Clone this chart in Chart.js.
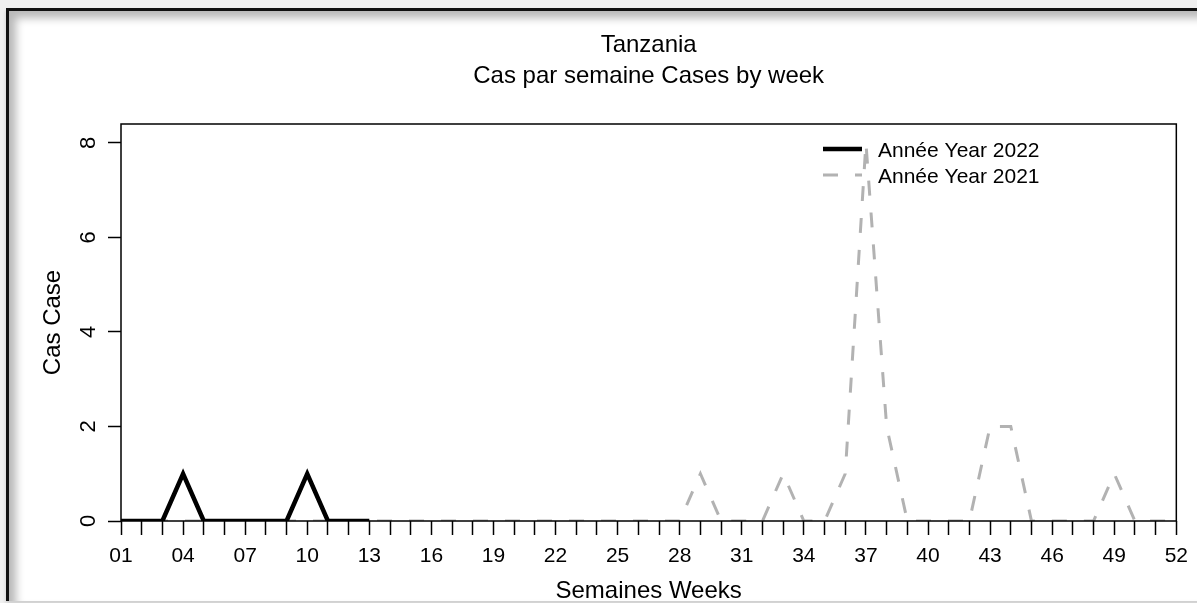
<!DOCTYPE html>
<html>
<head>
<meta charset="utf-8">
<script src="https://cdn.jsdelivr.net/npm/chart.js@4/dist/chart.umd.min.js"></script>
<style>
  html, body { margin: 0; padding: 0; width: 1197px; height: 603px; overflow: hidden; background: #f0f0f0; }
  #frame {
    position: absolute; left: 6px; top: 8px; width: 1200px; height: 590px;
    border-left: 3px solid #111; border-top: 3px solid #111;
    background: #fff;
    box-shadow: inset 7px 7px 9px rgba(0,0,0,0.28), 0 3px 4px rgba(0,0,0,0.15);
  }
  #c { position: absolute; left: 0; top: 0; }
</style>
</head>
<body>
<div id="frame"></div>
<canvas id="c" width="1197" height="603"></canvas>
<script>
const weeks = ['01','02','03','04','05','06','07','08','09','10','11','12','13','14','15','16','17','18','19','20','21','22','23','24','25','26','27','28','29','30','31','32','33','34','35','36','37','38','39','40','41','42','43','44','45','46','47','48','49','50','51','52'];
const cases2022 = [0,0,0,1,0,0,0,0,0,1,0,0,0];
const cases2021 = [0,0,0,0,0,0,0,0,0,0,0,0,0,0,0,0,0,0,0,0,0,0,0,0,0,0,0,0,1,0,0,0,1,0,0,1,8,2,0,0,0,0,2,2,0,0,0,0,1,0,0,0];
const yTicks = [0,2,4,6,8];
const titleLines = ['Tanzania', 'Cas par semaine Cases by week'];
const seriesLabels = ['Année Year 2022', 'Année Year 2021'];
const xTitle = 'Semaines Weeks';
const yTitle = 'Cas Case';

const FONT = "'Liberation Sans', Arial, sans-serif";

const titlePlugin = {
  id: 'rtitle',
  afterDraw(chart) {
    const {ctx, chartArea: a} = chart;
    const cx = (a.left + a.right) / 2;
    const rows = [45, 76];
    ctx.save();
    ctx.fillStyle = '#000';
    ctx.font = "24px " + FONT;
    ctx.textAlign = 'center';
    ctx.textBaseline = 'middle';
    titleLines.forEach((t, i) => ctx.fillText(t, cx, rows[i]));
    ctx.restore();
  }
};

const boxPlugin = {
  id: 'box',
  afterDraw(chart) {
    const {ctx, chartArea: a} = chart;
    ctx.save();
    ctx.strokeStyle = '#000';
    ctx.lineWidth = 1.5;
    ctx.strokeRect(a.left, a.top, a.right - a.left, a.bottom - a.top);
    ctx.restore();
  }
};

const legendPlugin = {
  id: 'rlegend',
  afterDatasetsDraw(chart) {
    const {ctx} = chart;
    const rows = [149, 175];
    chart.data.datasets.forEach((ds, i) => {
      const y = rows[i];
      ctx.save();
      ctx.strokeStyle = ds.borderColor;
      ctx.lineWidth = ds.borderWidth;
      ctx.setLineDash(ds.borderDash || []);
      ctx.lineCap = 'butt';
      ctx.beginPath();
      ctx.moveTo(823, y);
      ctx.lineTo(862, y);
      ctx.stroke();
      ctx.setLineDash([]);
      ctx.fillStyle = '#000';
      ctx.font = "21px " + FONT;
      ctx.textBaseline = 'middle';
      ctx.textAlign = 'left';
      ctx.fillText(ds.label, 878, y + 2);
      ctx.restore();
    });
  }
};

new Chart(document.getElementById('c'), {
  type: 'line',
  data: {
    labels: weeks,
    datasets: [
      {
        label: seriesLabels[0],
        data: cases2022,
        borderColor: '#000',
        borderWidth: 4.5,
        borderJoinStyle: 'miter',
        pointRadius: 0,
        tension: 0,
        fill: false
      },
      {
        label: seriesLabels[1],
        data: cases2021,
        borderColor: '#b2b2b2',
        borderWidth: 3,
        borderDash: [15, 17],
        borderJoinStyle: 'miter',
        pointRadius: 0,
        tension: 0,
        fill: false
      }
    ]
  },
  options: {
    responsive: false,
    animation: false,
    devicePixelRatio: 1,
    layout: { padding: { left: 0, right: 20, top: 124, bottom: 0 } },
    plugins: {
      legend: { display: false },
      tooltip: { enabled: false },
      title: { display: false }
    },
    scales: {
      x: {
        type: 'category',
        offset: false,
        grid: { display: true, drawOnChartArea: false, drawTicks: true, tickLength: 14, color: '#000', tickWidth: 1.5, offset: false },
        border: { display: false },
        ticks: {
          autoSkip: false, maxRotation: 0, minRotation: 0, padding: 9,
          color: '#000', font: { family: FONT, size: 21 },
          callback: (v, i) => (i % 3 === 0 ? weeks[i] : '')
        },
        title: { display: true, text: xTitle, color: '#000', font: { family: FONT, size: 24, lineHeight: 1.0 }, padding: { top: 0, bottom: 0 } },
        afterFit: (s) => { s.height = 82; }
      },
      y: {
        min: 0,
        max: 8.4,
        afterBuildTicks: (s) => { s.ticks = yTicks.map(v => ({ value: v })); },
        grid: { display: true, drawOnChartArea: false, drawTicks: true, tickLength: 13, color: '#000', tickWidth: 1.5 },
        border: { display: false },
        ticks: {
          minRotation: 90, maxRotation: 90, crossAlign: 'center', padding: 13,
          color: '#000', font: { family: FONT, size: 22 },
          callback: (v) => String(v)
        },
        title: { display: true, text: yTitle, color: '#000', font: { family: FONT, size: 24 }, padding: { top: 39, bottom: 0 } },
        afterFit: (s) => { s.width = 121; }
      }
    }
  },
  plugins: [legendPlugin, boxPlugin, titlePlugin]
});
</script>
</body>
</html>
